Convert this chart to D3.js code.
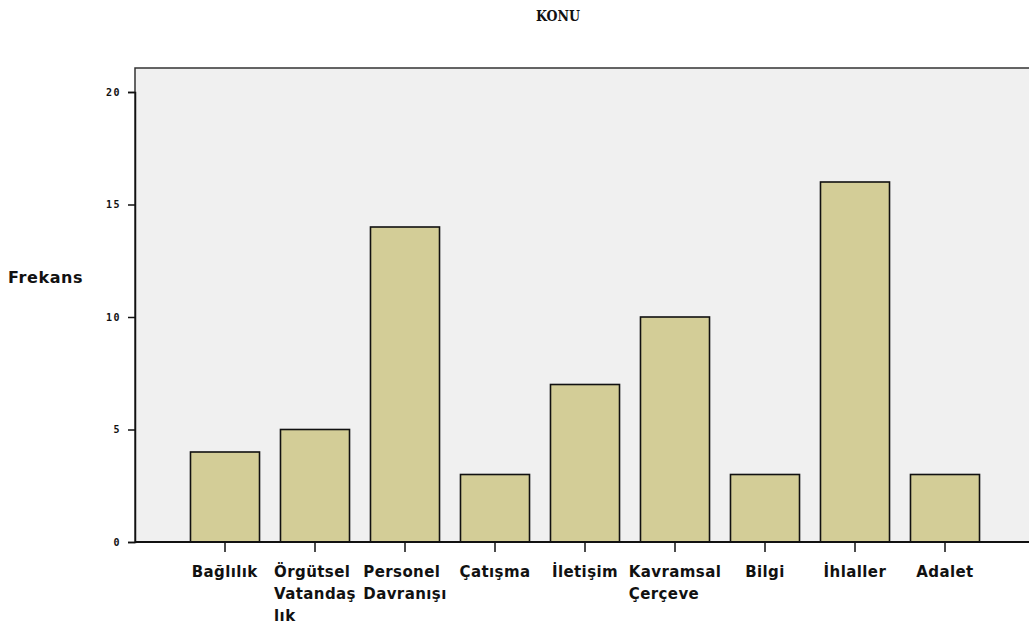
<!DOCTYPE html>
<html>
<head>
<meta charset="utf-8">
<script src="https://cdnjs.cloudflare.com/ajax/libs/d3/7.8.5/d3.min.js"></script>
<style>
  body { margin: 0; background: #fff; }
  .tick-y { font-family: "DejaVu Sans Mono", monospace; font-size: 10px; font-weight: bold; letter-spacing: 1.5px; }
  .cat-label { font-family: "DejaVu Sans", sans-serif; font-weight: bold; font-size: 15px; letter-spacing: 0.4px; }
</style>
</head>
<body>
<div id="chart"></div>
<script>
// KONU frequency bar chart

const categories = ['Bağlılık', 'Örgütsel Vatandaş lık', 'Personel Davranışı', 'Çatışma',
    'İletişim', 'Kavramsal Çerçeve', 'Bilgi', 'İhlaller', 'Adalet'];
const labelLines = [['Bağlılık'], ['Örgütsel', 'Vatandaş', 'lık'], ['Personel', 'Davranışı'], ['Çatışma'],
    ['İletişim'], ['Kavramsal', 'Çerçeve'], ['Bilgi'], ['İhlaller'], ['Adalet']];
const frequencies = [4, 5, 14, 3, 7, 10, 3, 16, 3];
const yTicks = [0, 5, 10, 15, 20];

const width = 1029, height = 630;
const plot = { left: 135, top: 68, right: 1032, bottom: 542 };

const svg = d3.select('#chart').append('svg')
    .attr('width', width)
    .attr('height', height);

// Scales
const y = d3.scaleLinear()
    .domain([0, 20])
    .range([plot.bottom, 92]);

const x = d3.scaleBand()
    .domain(categories)
    .range([180, 990])
    .paddingInner(0.233)
    .paddingOuter(0.1165);

// Plot background
svg.append('rect')
    .attr('x', plot.left)
    .attr('y', plot.top)
    .attr('width', plot.right - plot.left)
    .attr('height', plot.bottom - plot.top)
    .attr('fill', '#f0f0f0')
    .attr('stroke', '#333')
    .attr('stroke-width', 1.5);

// Bars
svg.selectAll('.bar')
    .data(frequencies)
    .enter()
    .append('rect')
    .attr('class', 'bar')
    .attr('x', (d, i) => x(categories[i]))
    .attr('y', d => y(d))
    .attr('width', x.bandwidth())
    .attr('height', d => y(0) - y(d))
    .attr('fill', '#d3cd97')
    .attr('stroke', '#111')
    .attr('stroke-width', 1.6);

// Y axis
const yAxis = svg.append('g')
    .attr('transform', `translate(${plot.left},0)`)
    .call(d3.axisLeft(y).tickValues(yTicks).tickSize(7).tickPadding(7));
yAxis.select('.domain').attr('stroke', '#111').attr('stroke-width', 1.5);
yAxis.selectAll('.tick line').attr('stroke', '#111').attr('stroke-width', 1.5);
yAxis.selectAll('.tick text').attr('class', 'tick-y').attr('fill', '#111');

// X axis line + ticks
const xAxis = svg.append('g')
    .attr('transform', `translate(0,${plot.bottom})`)
    .call(d3.axisBottom(x).tickSize(10).tickFormat(''));
xAxis.select('.domain').attr('stroke', '#111').attr('stroke-width', 1.8)
    .attr('d', `M${plot.left},0H${plot.right}`);
xAxis.selectAll('.tick line').attr('stroke', '#111').attr('stroke-width', 1.5);

// Category labels (left-aligned lines, block centred on tick)
categories.forEach((c, i) => {
    const cx = x(c) + x.bandwidth() / 2;
    const t = svg.append('text')
        .attr('class', 'cat-label')
        .attr('fill', '#111')
        .attr('y', 577);
    labelLines[i].forEach((line, j) => {
        t.append('tspan')
            .attr('x', 0)
            .attr('dy', j === 0 ? 0 : 22)
            .text(line);
    });
    const w = t.node().getBBox().width;
    t.selectAll('tspan').attr('x', cx - w / 2);
});

// Y axis label
svg.append('text')
    .attr('x', 8)
    .attr('y', 283)
    .attr('font-family', 'DejaVu Sans, sans-serif')
    .attr('font-weight', 'bold')
    .attr('font-size', '16px')
    .attr('letter-spacing', '0.6px')
    .attr('fill', '#111')
    .text('Frekans');

// Title
svg.append('text')
    .attr('x', 558)
    .attr('y', 21)
    .attr('text-anchor', 'middle')
    .attr('font-family', 'DejaVu Serif Condensed, serif')
    .attr('font-weight', 'bold')
    .attr('font-size', '14px')
    .attr('fill', '#111')
    .text('KONU');
</script>
</body>
</html>
